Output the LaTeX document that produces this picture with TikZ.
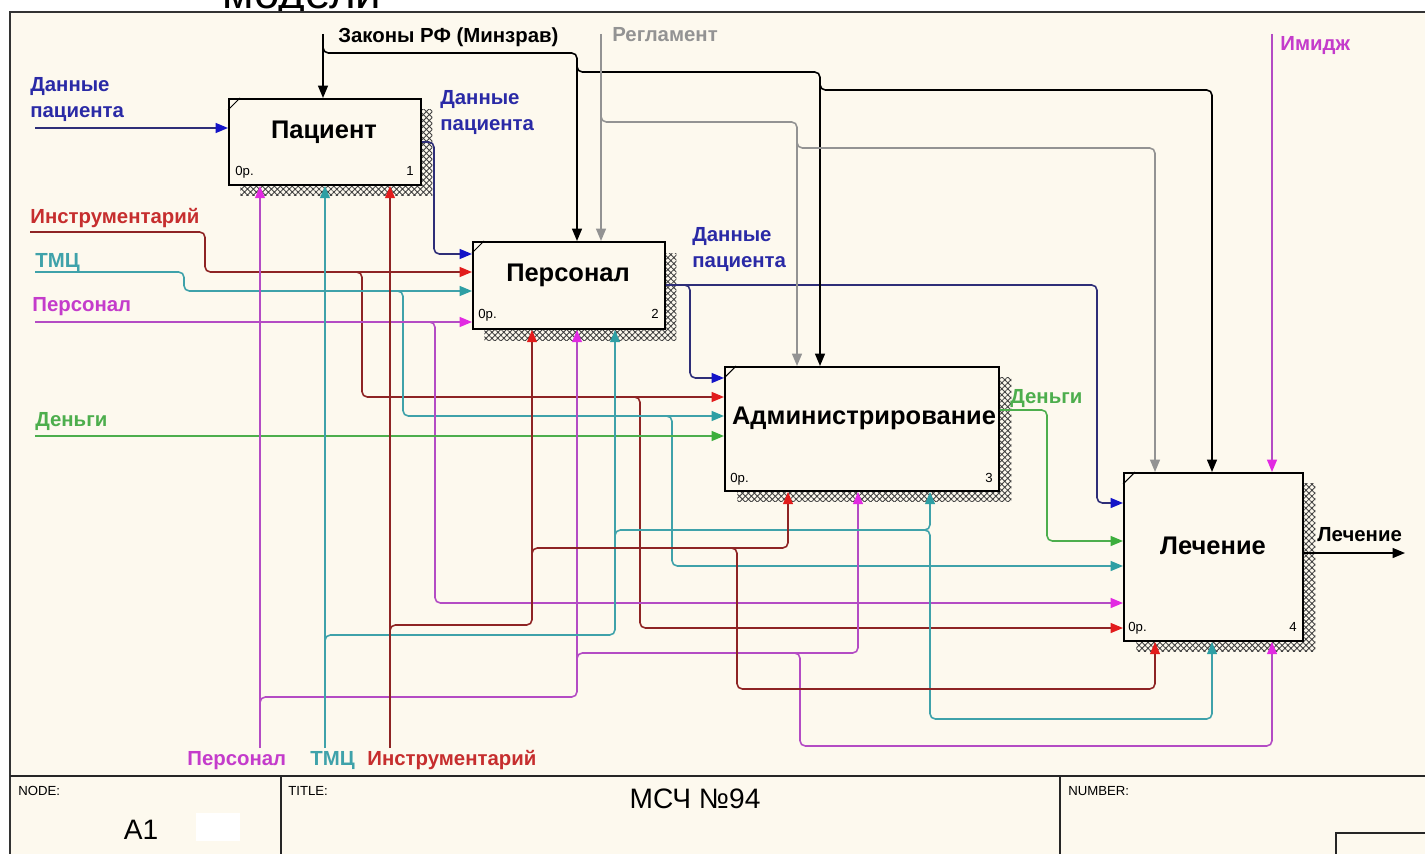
\documentclass[tikz,border=0pt]{standalone}
\usepackage{fontspec}
\setmainfont{Liberation Sans}
\usetikzlibrary{calc,arrows.meta,patterns.meta}
\definecolor{paper}{HTML}{FDF9EE}
\definecolor{navy}{HTML}{2E2E78}
\definecolor{navytxt}{HTML}{2A2AA6}
\definecolor{navytip}{HTML}{1414C8}
\definecolor{rust}{HTML}{8E2424}
\definecolor{rusttxt}{HTML}{C62E2E}
\definecolor{rusttip}{HTML}{E21C1C}
\definecolor{tmc}{HTML}{3FA2AA}
\definecolor{tmctip}{HTML}{2E9FA4}
\definecolor{lilac}{HTML}{B44CC4}
\definecolor{lilactxt}{HTML}{C43CCB}
\definecolor{lilactip}{HTML}{E22AE2}
\definecolor{leaf}{HTML}{4DAE4D}
\definecolor{leaftip}{HTML}{3CAE3C}
\definecolor{ash}{HTML}{939393}
\tikzset{
  flow/.style={line width=0.9pt, rounded corners=3pt},
  atip/.style={-{Triangle[length=7pt,width=5.6pt,color=#1]}},
  fblue/.style={flow, draw=navy, atip=navytip},
  fred/.style={flow, draw=rust, atip=rusttip},
  ftmc/.style={flow, draw=tmc, atip=tmctip},
  flil/.style={flow, draw=lilac, atip=lilactip},
  fgrn/.style={flow, draw=leaf, atip=leaftip},
  fblk/.style={flow, draw=black, atip=black},
  fgry/.style={flow, draw=ash, atip=ash},
  box/.style={draw=black, line width=1.1pt, fill=paper, inner sep=0pt, anchor=north west},
  shade/.style={pattern={Hatch[angle=45,distance=2.4pt,line width=0.5pt]}, pattern color=black!75, inner sep=0pt, anchor=north west},
  ttl/.style={font=\fontsize{14.5}{17}\selectfont\bfseries, anchor=base, inner sep=0pt},
  lab/.style={font=\fontsize{11.6}{14.6}\selectfont\bfseries, align=left, inner sep=0pt},
  tiny/.style={font=\fontsize{7.5}{9}\selectfont, inner sep=0pt},
  frm/.style={font=\fontsize{7.5}{9}\selectfont, inner sep=0pt, anchor=base west}
}

\begin{document}
\begin{tikzpicture}[x=0.02cm, y=-0.02cm]
  \useasboundingbox (0,0) rectangle (1425,854);
  \fill[white] (0,0) rectangle (1425,854);
  \fill[paper] (10,12) rectangle (1425,854);
  \begin{scope}
    \clip (0,0) rectangle (1425,11);
    \node[font=\fontsize{26}{30}\selectfont, anchor=base, inner sep=0pt] (cap) at (302,9) {модели};
  \end{scope}
  \draw[line width=1.6pt, black!80] (10,854) -- (10,12) -- (1425,12);

  % blocks
  \node[shade, minimum width=3.84cm, minimum height=1.72cm] (pacS) at (240,109) {};
  \node[shade, minimum width=3.84cm, minimum height=1.74cm] (perS) at (484,253) {};
  \node[shade, minimum width=5.48cm, minimum height=2.48cm] (admS) at (737,377) {};
  \node[shade, minimum width=3.58cm, minimum height=3.36cm] (lehS) at (1136,483) {};
  \node[box, minimum width=3.84cm, minimum height=1.72cm] (pac) at (228,98) {};
  \node[box, minimum width=3.84cm, minimum height=1.74cm] (per) at (472,241) {};
  \node[box, minimum width=5.48cm, minimum height=2.48cm] (adm) at (724,366) {};
  \node[box, minimum width=3.58cm, minimum height=3.36cm] (leh) at (1123,472) {};
  \foreach \b in {pac,per,adm,leh}
    \draw[line width=0.6pt] ([yshift=-0.24cm]\b.north west) -- ([xshift=0.24cm]\b.north west);

  \node[ttl] (pacT) at (324,139) {Пациент};
  \node[ttl] (perT) at (568,282) {Персонал};
  \node[ttl] (admT) at (864,424) {Администрирование};
  \node[ttl] (lehT) at (1213,554) {Лечение};
  \node[tiny, anchor=base west] (pacC) at (235,176) {0р.};
  \node[tiny, anchor=base east] (pacN) at (414,176) {1};
  \node[tiny, anchor=base west] (perC) at (478,319) {0р.};
  \node[tiny, anchor=base east] (perN) at (659,319) {2};
  \node[tiny, anchor=base west] (admC) at (730,482) {0р.};
  \node[tiny, anchor=base east] (admN) at (993,482) {3};
  \node[tiny, anchor=base west] (lehC) at (1128,631) {0р.};
  \node[tiny, anchor=base east] (lehN) at (1297,631) {4};

  % inputs
  \draw[fblue] (35,128) -- (pac.west |- 0,128);
  \draw[fblue] (pac.east |- 0,142) -| (434,254) -- (per.west |- 0,254);
  \draw[fblue] (per.east |- 0,285) -| (1097,503) -- (leh.west |- 0,503);
  \draw[fblue] (683,285) -| (690,378) -- (adm.west |- 0,378);
  \draw[fred] (30,232) -| (205,272) -- (per.west |- 0,272);
  \draw[fred] (355,272) -| (362,397) -- (adm.west |- 0,397);
  \draw[fred] (633,397) -| (640,628) -- (leh.west |- 0,628);
  \draw[ftmc] (35,272) -| (184,291) -- (per.west |- 0,291);
  \draw[ftmc] (396,291) -| (403,416) -- (adm.west |- 0,416);
  \draw[ftmc] (665,416) -| (672,566) -- (leh.west |- 0,566);
  \draw[flil] (35,322) -- (per.west |- 0,322);
  \draw[flil] (428,322) -| (435,603) -- (leh.west |- 0,603);
  \draw[fgrn] (35,436) -- (adm.west |- 0,436);
  \draw[fgrn] (adm.east |- 0,410) -| (1047,541) -- (leh.west |- 0,541);
  \draw[fblk] (leh.east |- 0,553) -- (1405,553);

  % controls
  \draw[fblk] (323,34) -- (pac.north -| 323,0);
  \draw[fblk] (323,45) |- (577,53) -- (per.north -| 577,0);
  \draw[fblk] (577,65) |- (820,72) -- (adm.north -| 820,0);
  \draw[fblk] (820,83) |- (1212,90) -- (leh.north -| 1212,0);
  \draw[fgry] (601,34) -- (per.north -| 601,0);
  \draw[fgry] (601,115) |- (797,122) -- (adm.north -| 797,0);
  \draw[fgry] (797,141) |- (1155,148) -- (leh.north -| 1155,0);
  \draw[flil] (1272,34) -- (leh.north -| 1272,0);

  % mechanisms
  \draw[flil] (260,748) -- (pac.south -| 260,0);
  \draw[flil] (260,704) |- (577,697) -- (per.south -| 577,0);
  \draw[flil] (577,660) |- (858,653) -- (adm.south -| 858,0);
  \draw[flil] (793,653) -| (800,746) -| (leh.south -| 1272,0);
  \draw[ftmc] (325,748) -- (pac.south -| 325,0);
  \draw[ftmc] (325,642) |- (615,635) -- (per.south -| 615,0);
  \draw[ftmc] (615,537) |- (930,530) -- (adm.south -| 930,0);
  \draw[ftmc] (923,530) -| (930,719) -| (leh.south -| 1212,0);
  \draw[fred] (390,748) -- (pac.south -| 390,0);
  \draw[fred] (390,632) |- (532,625) -- (per.south -| 532,0);
  \draw[fred] (532,555) |- (788,548) -- (adm.south -| 788,0);
  \draw[fred] (730,548) -| (737,689) -| (leh.south -| 1155,0);

  % arrow labels
  \node[lab, text=navytxt, anchor=north west] (inDat) at (30,77) {Данные\\пациента};
  \node[lab, text=navytxt, anchor=north west] (outDat1) at (440,90) {Данные\\пациента};
  \node[lab, text=navytxt, anchor=north west] (outDat2) at (692,227) {Данные\\пациента};
  \node[lab, anchor=base west] (zak) at (338,43) {Законы РФ (Минзрав)};
  \node[lab, text=ash, anchor=base west] (reg) at (612,42) {Регламент};
  \node[lab, text=lilactxt, anchor=base west] (img) at (1280,51) {Имидж};
  \node[lab, text=rusttxt, anchor=base west] (inIns) at (30,224) {Инструментарий};
  \node[lab, text=tmc, anchor=base west] (inTmc) at (35,268) {ТМЦ};
  \node[lab, text=lilactxt, anchor=base west] (inPer) at (32,312) {Персонал};
  \node[lab, text=leaf, anchor=base west] (inDen) at (35,426) {Деньги};
  \node[lab, text=leaf, anchor=base west] (outDen) at (1010,403) {Деньги};
  \node[lab, anchor=base west] (outLeh) at (1317,541) {Лечение};
  \node[lab, text=lilactxt, anchor=base west] (mPer) at (187,765) {Персонал};
  \node[lab, text=tmc, anchor=base west] (mTmc) at (310,765) {ТМЦ};
  \node[lab, text=rusttxt, anchor=base west] (mIns) at (367,765) {Инструментарий};

  % title block
  \draw[line width=1.2pt, black!85] (10,776) -- (1425,776)
    (281,776) -- (281,854) (1060,776) -- (1060,854)
    (1336,854) -- (1336,833) -- (1425,833);
  \fill[white] (196,813) rectangle (240,841);
  \node[frm] (fNode) at (18,795) {NODE:};
  \node[frm] (fTitle) at (288,795) {TITLE:};
  \node[frm] (fNum) at (1068,795) {NUMBER:};
  \node[font=\fontsize{16}{19}\selectfont, anchor=base, inner sep=0pt] (fA) at (141,839) {A1};
  \node[font=\fontsize{16}{19}\selectfont, anchor=base, inner sep=0pt] (fMsc) at (695,808) {МСЧ №94};
\end{tikzpicture}
\end{document}
